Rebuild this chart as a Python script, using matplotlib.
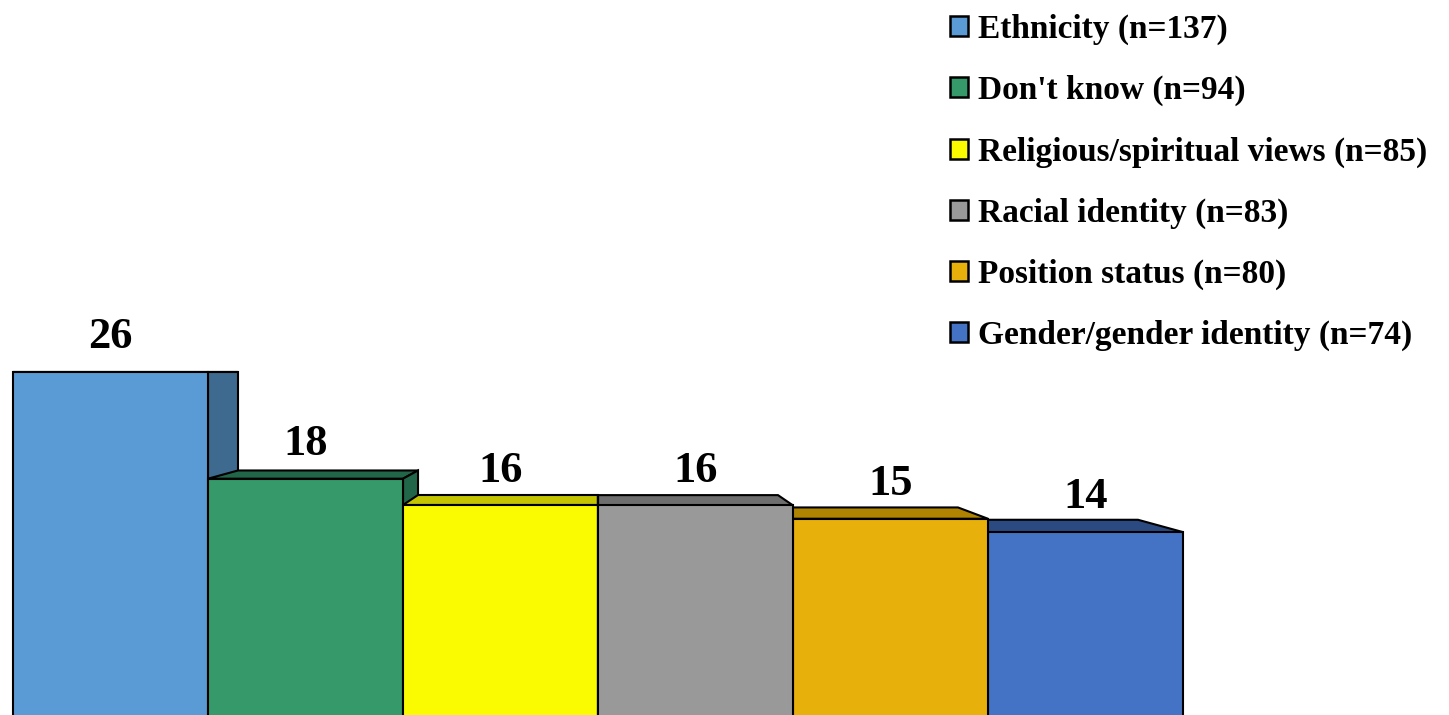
import matplotlib
matplotlib.use("Agg")
import matplotlib.pyplot as plt
from matplotlib.patches import Patch, Polygon
from matplotlib.font_manager import FontProperties

categories = ["Ethnicity (n=137)", "Don't know (n=94)",
              "Religious/spiritual views (n=85)", "Racial identity (n=83)",
              "Position status (n=80)", "Gender/gender identity (n=74)"]
values = [26, 18, 16, 16, 15, 14]

front_colors = ["#5B9BD5", "#36996A", "#FAFA00", "#999999", "#E8B00A", "#4472C4"]
shade_colors = ["#3D6A8E", "#22664A", "#C4C400", "#6E6E6E", "#B08400", "#2C4A82"]

W, H, DPI = 1449, 715, 100
fig = plt.figure(figsize=(W / DPI, H / DPI), dpi=DPI)
fig.patch.set_facecolor("white")
ax = fig.add_axes([0, 0, 1, 1])
ax.set_axis_off()

# one bar = 195 px wide, first bar starts 13 px in; 13.35 px per unit
ax.set_xlim(-13 / 195, (W - 13) / 195)
ax.set_ylim(4 / 13.35, 719 / 13.35)

# simple one-point perspective for the box depth
vx, vy = 3.0, max(values)
k = 0.077
lw = 1.5


def back(x, y):
    return (x + k * (vx - x), y + k * (vy - y))


def draw_box(i):
    x0, x1, v = i, i + 1, values[i]
    faces = []
    # top face
    faces.append([(x0, v), (x1, v), back(x1, v), back(x0, v)])
    # side wall facing the eye point
    if x1 <= vx:
        faces.append([(x1, 0), (x1, v), back(x1, v), back(x1, 0)])
    elif x0 >= vx:
        faces.append([(x0, 0), (x0, v), back(x0, v), back(x0, 0)])
    for pts in faces:
        ax.add_patch(Polygon(pts, closed=True, facecolor=shade_colors[i],
                             edgecolor="black", linewidth=lw, zorder=2))
    ax.bar(i + 0.5, v, width=1, color=front_colors[i], edgecolor="black",
           linewidth=lw, zorder=2)
    ax.annotate(str(v), (i + 0.5, v), xytext=(0, 17), textcoords="offset points",
                ha="center", va="baseline", fontsize=32, fontweight="bold",
                family="Liberation Serif", zorder=3)


n = len(values)
left = [i for i in range(n) if i + 0.5 <= vx]
right = [i for i in range(n) if i + 0.5 > vx]
for i in left:
    draw_box(i)
for i in reversed(right):
    draw_box(i)

handles = [Patch(facecolor=c, edgecolor="black", linewidth=1.8) for c in front_colors]
ax.legend(handles, categories, loc="upper left",
          bbox_to_anchor=(950 / W, 1 - 14 / H), bbox_transform=fig.transFigure,
          frameon=False, prop=FontProperties(family="Liberation Serif", weight="bold", size=24),
          handlelength=0.55, handleheight=0.55, handletextpad=0.3,
          labelspacing=0.9, borderpad=0, borderaxespad=0)

fig.savefig("out.png", dpi=DPI, facecolor="white")
